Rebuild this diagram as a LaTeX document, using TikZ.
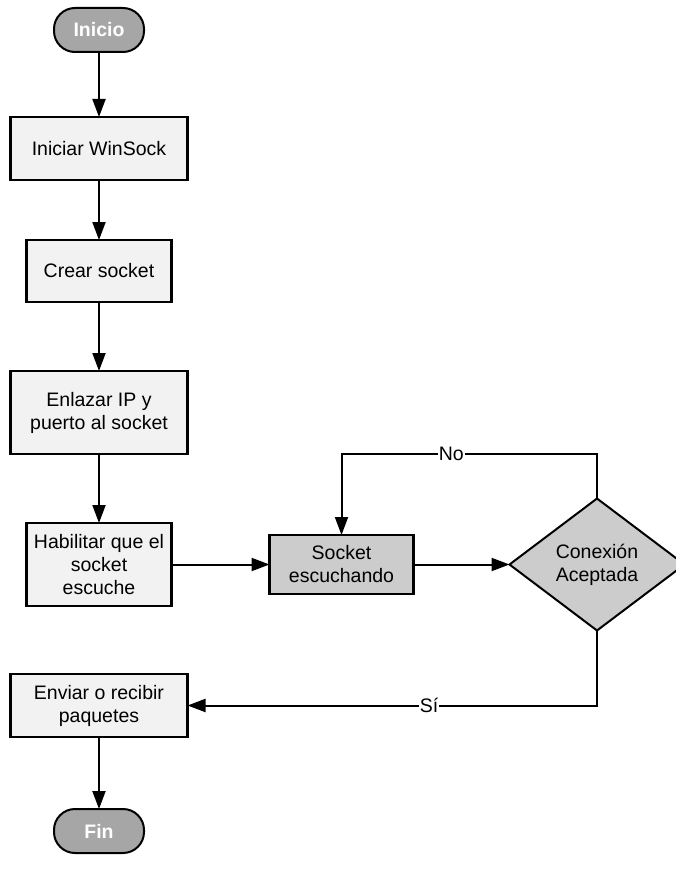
\documentclass[tikz,border=0pt]{standalone}
\usepackage{fontspec}
\setmainfont{Liberation Sans}
\usetikzlibrary{arrows.meta,positioning,shapes.geometric}
\definecolor{TermGray}{HTML}{A6A6A6}
\definecolor{BoxLight}{HTML}{F2F2F2}
\definecolor{BoxGray}{HTML}{CCCCCC}

\begin{document}
\begin{tikzpicture}[node distance=66pt,every node/.style={outer sep=0pt},
    term/.style={draw,line width=2pt,rounded corners=21pt,fill=TermGray,text=white,
                 minimum width=90pt,minimum height=44pt,
                 font=\bfseries\fontsize{19.5}{23}\selectfont},
    box/.style={draw,line width=2.2pt,fill=BoxLight,align=center,inner sep=0pt,
                font=\fontsize{19.5}{23}\selectfont},
    dec/.style={draw,line width=2pt,diamond,fill=BoxGray,align=center,inner sep=0pt,
                minimum width=175pt,minimum height=132pt,
                font=\fontsize{19.5}{23}\selectfont},
    arr/.style={-{Triangle[length=18pt,width=13pt]},line width=2pt}]
    \useasboundingbox (0,0) rectangle (676pt,-880pt);
    \node[term] (inicio) at (99pt,-30pt) {Inicio};
    \node[box,below=65pt of inicio,minimum width=177pt,minimum height=63pt] (winsock) {Iniciar WinSock};
    \node[box,below=60pt of winsock,minimum width=145pt,minimum height=62pt] (crear) {Crear socket};
    \node[box,below=69pt of crear,minimum width=177pt,minimum height=83pt] (enlazar) {Enlazar IP y\\puerto al socket};
    \node[box,below=69pt of enlazar,minimum width=145pt,minimum height=83pt] (habilitar) {Habilitar que el\\socket\\escuche};
    \node[box,below=68pt of habilitar,minimum width=177pt,minimum height=63pt] (enviar) {Enviar o recibir\\paquetes};
    \node[term,below=72pt of enviar] (fin) {Fin};
    \node[box,right=98pt of habilitar,fill=BoxGray,minimum width=144pt,minimum height=59pt] (escucha) {Socket\\escuchando};
    \node[dec,right=96pt of escucha] (conexion) {Conexión\\Aceptada};
    \draw[arr] (inicio)--(winsock);
    \draw[arr] (winsock)--(crear);
    \draw[arr] (crear)--(enlazar);
    \draw[arr] (enlazar)--(habilitar);
    \draw[arr] (habilitar)--(escucha);
    \draw[arr] (escucha)--(conexion);
    \draw[arr] (conexion.north) -- ++(0,45pt) -| node[pos=.285,fill=white,inner sep=1pt,
        font=\fontsize{19.5}{23}\selectfont] {No} (escucha.north);
    \draw[arr] (conexion.south) |- node[pos=.705,fill=white,inner sep=1pt,
        font=\fontsize{19.5}{23}\selectfont] {Sí} (enviar.east);
    \draw[arr] (enviar)--(fin);
  \end{tikzpicture}
\end{document}
